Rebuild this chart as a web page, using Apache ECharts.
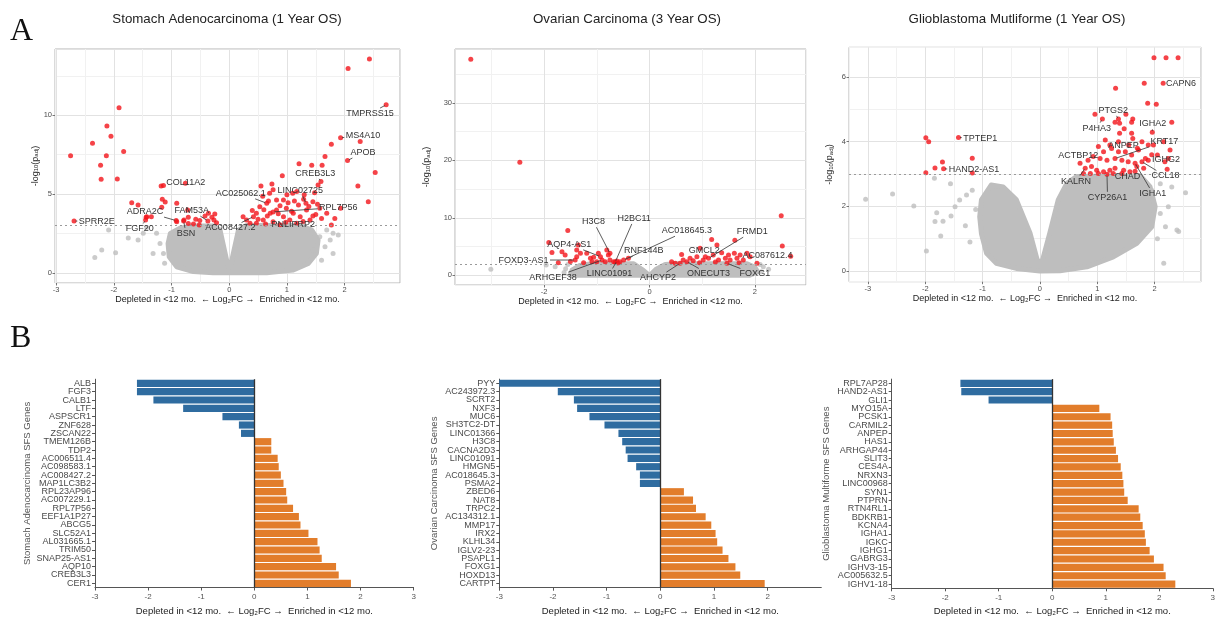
<!DOCTYPE html>
<html><head><meta charset="utf-8">
<script src="https://cdn.jsdelivr.net/npm/echarts@6/dist/echarts.min.js"></script>
<style>html,body{margin:0;padding:0;background:#fff}#c{width:1218px;height:619px}</style>
</head><body><div id="c"></div>
<script>
// ---------------- DATA ----------------
// Stomach adenocarcinoma volcano: significant (red) points [log2FC, -log10 padj]
const stadSig = [[-2.75,7.42],[-2.37,8.22],[-2.12,9.32],[-2.05,8.67],[-2.23,6.82],[-2.13,7.42],[-2.22,5.93],[-1.91,10.47],[-1.83,7.69],[-1.94,5.95],[-2.69,3.28],[-1.69,4.45],[-1.58,4.30],[-1.43,3.56],[-1.35,3.56],[-1.45,3.35],[-1.44,3.52],[-1.18,5.51],[-1.14,5.53],[-0.76,5.68],[-1.16,4.66],[-1.11,4.49],[-1.17,4.15],[-0.91,4.41],[-0.92,3.31],[-0.79,3.28],[-0.72,3.98],[-0.91,3.24],[-0.785,3.35],[-0.71,3.52],[-0.58,3.39],[-0.51,3.31],[-0.42,3.6],[-0.36,3.78],[-0.30,3.52],[-0.265,3.35],[-0.25,3.73],[-0.22,3.18],[-0.37,3.29],[-0.52,3.03],[-0.71,3.13],[-0.62,3.1],
[2.43,13.56],[2.06,12.97],[2.72,10.66],[1.93,8.56],[2.27,8.33],[1.77,8.16],[2.05,7.12],[1.66,7.37],[1.61,6.83],[1.43,6.83],[1.21,6.91],[2.53,6.36],[0.92,6.15],[1.59,5.79],[2.23,5.51],[2.41,4.51],[1.93,4.09],[1.77,3.03],[1.83,3.45],[0.55,5.51],[0.74,5.64],[0.76,5.26],[1.10,5.04],[1.17,5.15],[1.54,5.57],[1.48,5.08],[1.45,4.51],[1.29,4.66],[1.57,4.09],[1.60,3.45],[1.69,3.77],[0.94,4.62],[0.82,4.62],[0.65,4.41],[0.53,4.19],[0.47,3.77],[0.42,3.56],[0.30,3.35],[0.24,3.56],[0.59,3.35],[0.71,3.77],[0.82,3.98],[0.99,4.09],[1.11,3.77],[1.23,3.56],[1.05,3.35],[1.34,3.98],[1.40,3.35],[0.94,3.56],[0.47,3.14],[0.76,3.24],[0.36,3.14],[1.17,3.14],[0.60,4.0],[0.68,4.55],[0.88,4.25],[1.02,4.45],[1.20,4.30],[1.38,4.20],[0.63,3.10],[0.88,3.05],[1.08,3.90],[1.50,3.70],[0.50,3.40],[0.66,3.60],[1.28,3.25],[0.98,3.20],[1.45,3.60],[0.40,3.95],[0.85,3.75],[0.58,4.85],[0.70,5.05],[1.00,4.95],[1.30,4.95],[1.13,4.55],[1.53,4.35],[1.33,4.41],[0.76,3.86]];
const stadGrey = [[-1.75,2.2],[-1.58,2.08],[-1.49,2.5],[-2.21,1.44],[-2.33,0.97],[-1.97,1.27],[-1.43,2.88],[-2.09,2.71],[-1.26,2.5],[-1.20,1.86],[-1.32,1.23],[-1.14,1.23],[-1.12,0.6],[1.57,2.29],[1.80,2.5],[1.89,2.39],[1.66,1.65],[1.80,1.23],[1.46,1.44],[1.75,2.08],[1.60,0.8],[1.69,2.71],[1.34,2.75]];
const stadCloud = [[0,0],[-0.28,0],[-0.62,0.08],[-0.91,0.38],[-1.04,1.02],[-1.06,1.86],[-1.02,2.5],[-0.86,2.82],[-0.62,2.97],[-0.28,2.97],[-0.16,2.71],[-0.02,0.38],[0.02,0.38],[0.16,2.71],[0.30,3.0],[1.23,3.0],[1.43,2.71],[1.54,2.08],[1.51,1.23],[1.37,0.59],[1.11,0.17],[0.65,0]];
// [gene, pointX, pointY, labelX, labelY]
const stadLabels = [['SPRR2E',-2.69,3.28,-2.295,3.28],['FGF20',-1.45,3.35,-1.55,2.78],['ADRA2C',-0.92,3.31,-1.46,3.88],['BSN',-0.79,3.28,-0.75,2.50],['FAM53A',-0.37,3.29,-0.65,3.94],['COL11A2',-1.14,5.53,-0.754,5.70],['AC008427.2',0.42,3.56,0.02,2.84],['AC025062.1',0.65,4.41,0.20,5.04],['LINC02725',1.33,4.41,1.23,5.21],['CREB3L3',1.59,5.79,1.49,6.31],['RPL7P56',0.76,3.86,1.89,4.15],['PNLIPRP2',1.40,3.35,1.11,3.03],['TMPRSS15',2.72,10.66,2.44,10.10],['MS4A10',1.93,8.56,2.32,8.73],['APOB',2.05,7.12,2.32,7.63]];

// Ovarian carcinoma volcano
const ovSig = [[-3.39,37.6],[-2.46,19.7],[2.50,10.35],[2.52,5.09],[2.68,3.3],[2.04,2.08],[-1.55,7.8],[-1.91,5.73],[-1.85,3.99],[-1.66,4.1],[-1.60,3.53],[-1.73,2.19],[-1.38,4.4],[-1.35,5.26],[-1.31,3.82],[-1.38,3.24],[-1.41,2.66],[-1.19,3.82],[-1.12,2.95],[-1.09,2.37],[-0.97,3.82],[-0.93,3.24],[-0.90,2.66],[-0.81,4.40],[-0.78,3.53],[-0.84,2.37],[-0.75,2.66],[-0.68,2.37],[-0.62,2.48],[-0.56,2.37],[-0.49,2.66],[-0.40,2.95],[-1.00,2.37],[-1.06,3.13],[-0.75,3.82],[-0.65,2.3],[-1.25,2.2],[-0.6,2.15],[-1.5,2.4],
[0.42,2.37],[0.49,2.08],[0.61,3.64],[0.64,2.66],[0.71,2.37],[0.77,2.95],[0.83,2.54],[0.96,4.69],[1.02,2.66],[1.06,3.24],[1.12,2.95],[1.18,6.25],[1.21,3.53],[1.28,5.26],[1.31,2.66],[1.37,3.93],[1.44,2.95],[1.50,3.53],[1.53,2.66],[1.62,6.1],[1.61,3.82],[1.66,2.95],[1.72,3.53],[1.78,2.66],[1.85,3.82],[1.91,3.24],[1.47,2.08],[0.90,3.24],[0.58,2.08],[1.25,2.3],[0.95,2.2],[1.70,2.2]];
const ovGrey = [[-3.01,1.04],[-1.96,1.8],[-1.79,1.5],[-1.59,1.16],[-1.55,1.9],[-1.62,0.5],[2.16,1.5],[2.26,1.04],[2.12,0.6],[2.1,1.9]];
const ovCloud = [[-1.5,0],[-1.47,0.9],[-1.32,1.7],[-1.1,2.0],[-0.3,2.0],[-0.14,1.0],[-0.02,0.1],[0.02,0.1],[0.12,1.0],[0.3,1.9],[0.5,2.0],[1.85,2.0],[2.0,1.4],[2.05,0.6],[1.9,0]];
const ovLabels = [['H3C8',-0.75,3.82,-1.06,9.32],['H2BC11',-0.65,2.3,-0.29,9.90],['AC018645.3',-0.49,2.66,0.71,7.76],['AQP4-AS1',-0.93,3.24,-1.52,5.39],['RNF144B',-0.40,2.95,-0.11,4.28],['FOXD3-AS1',-1.41,2.66,-2.39,2.66],['ARHGEF38',-0.90,2.66,-1.83,-0.41],['LINC01091',-0.62,2.48,-0.76,0.23],['AHCYP2',0.58,2.08,0.16,-0.41],['ONECUT3',0.71,2.37,1.12,0.23],['GMCL2',1.21,3.53,1.04,4.40],['FRMD1',1.12,2.95,1.95,7.59],['AC087612.4',2.68,3.3,2.24,3.36],['FOXG1',1.47,2.08,2.0,0.23]];

// Glioblastoma volcano
const gbmSig = [[-1.99,4.12],[-1.94,4.0],[-1.42,4.13],[-1.18,3.49],[-1.18,3.03],[-1.70,3.37],[-1.83,3.19],[-1.68,3.16],[-1.99,3.04],
[1.99,6.60],[2.20,6.60],[2.41,6.60],[2.15,5.81],[1.82,5.81],[1.32,5.65],[1.88,5.19],[2.03,5.16],[0.96,4.85],[1.09,4.70],[1.50,4.85],[1.37,4.70],[1.31,4.60],[1.39,4.57],[1.62,4.70],[1.60,4.60],[2.30,4.60],[1.96,4.29],[1.39,4.26],[1.60,4.26],[1.14,4.05],[1.37,4.00],[1.78,4.00],[1.89,3.90],[1.11,3.69],[1.25,3.79],[1.37,3.69],[1.49,3.69],[1.60,3.59],[1.72,3.74],[1.84,3.48],[1.78,3.38],[1.66,3.33],[1.54,3.38],[1.43,3.43],[1.31,3.48],[1.17,3.43],[1.05,3.48],[0.93,3.54],[0.84,3.43],[0.70,3.33],[0.79,3.18],[0.90,3.23],[0.99,3.12],[1.11,3.07],[1.22,3.12],[1.31,3.18],[1.46,3.12],[1.57,3.07],[1.69,3.23],[1.81,3.18],[0.76,3.02],[0.88,3.02],[1.02,3.02],[1.17,2.99],[1.28,3.02],[1.43,3.02],[1.66,3.09],[1.89,3.43],[2.27,3.74],[2.24,3.48],[2.18,3.38],[2.22,3.15],[2.05,3.59],[2.16,4.00],[1.98,3.90],[1.47,4.40],[1.55,3.90],[1.22,3.90],[1.02,3.85],[1.95,3.60],[1.70,3.80],[1.62,4.10]];
const gbmGrey = [[-3.04,2.22],[-2.57,2.38],[-2.20,2.01],[-1.98,0.62],[-1.83,1.53],[-1.80,1.80],[-1.69,1.54],[-1.73,1.08],[-1.55,1.70],[-1.48,1.99],[-1.40,2.20],[-1.28,2.35],[-1.56,2.70],[-1.84,2.87],[-1.18,2.50],[-1.30,1.40],[-1.22,0.90],[-1.12,1.90],[2.54,2.42],[2.39,1.27],[2.42,1.22],[2.16,0.24],[2.24,1.99],[2.10,1.78],[2.19,1.37],[2.30,2.60],[2.10,2.70],[1.95,2.50],[2.05,1.00]];
const gbmCloud = [[0,0],[-0.41,0.08],[-0.76,0.24],[-0.93,0.55],[-1.02,1.16],[-1.05,1.68],[-1.02,2.2],[-0.85,2.66],[-0.64,2.6],[-0.41,2.2],[-0.17,1.16],[-0.04,0.3],[0.04,0.3],[0.17,1.16],[0.32,2.2],[0.47,2.71],[0.64,2.92],[1.75,2.95],[1.92,2.61],[2.01,1.99],[1.95,1.37],[1.69,0.86],[1.28,0.44],[0.82,0.13],[0.35,0.01]];
const gbmLabels = [['TPTEP1',-1.42,4.13,-1.04,4.11],['HAND2-AS1',-1.68,3.16,-1.15,3.14],['CAPN6',2.15,5.81,2.46,5.80],['PTGS2',1.37,4.70,1.28,4.97],['P4HA3',1.09,4.70,0.99,4.42],['IGHA2',1.96,4.29,1.97,4.55],['KRT17',1.31,3.48,2.17,4.00],['ANPEP',1.14,4.05,1.46,3.87],['ACTBP12',1.05,3.48,0.67,3.58],['IGHG2',1.89,3.43,2.20,3.45],['CCL18',1.78,3.38,2.19,2.94],['CHAD',1.46,3.12,1.53,2.92],['KALRN',0.79,3.18,0.63,2.78],['IGHA1',1.66,3.33,1.97,2.40],['CYP26A1',1.17,2.99,1.18,2.28]];

// Bar charts (SFS genes)
const stadGenes = ['ALB','FGF3','CALB1','LTF','ASPSCR1','ZNF628','ZSCAN22','TMEM126B','TDP2','AC006511.4','AC098583.1','AC008427.2','MAP1LC3B2','RPL23AP96','AC007229.1','RPL7P56','EEF1A1P27','ABCG5','SLC52A1','AL031665.1','TRIM50','SNAP25-AS1','AQP10','CREB3L3','CER1'];
const stadFC = [-2.21,-2.21,-1.90,-1.34,-0.60,-0.29,-0.25,0.32,0.32,0.44,0.46,0.50,0.55,0.60,0.62,0.73,0.84,0.87,1.02,1.19,1.23,1.27,1.54,1.59,1.82];
const ovGenes = ['PYY','AC243972.3','SCRT2','NXF3','MUC6','SH3TC2-DT','LINC01366','H3C8','CACNA2D3','LINC01091','HMGN5','AC018645.3','PSMA2','ZBED6','NAT8','TRPC2','AC134312.1','MMP17','IRX2','KLHL34','IGLV2-23','PSAPL1','FOXG1','HOXD13','CARTPT'];
const ovFC = [-3.0,-1.91,-1.61,-1.55,-1.32,-1.04,-0.78,-0.71,-0.645,-0.61,-0.45,-0.38,-0.38,0.44,0.61,0.665,0.845,0.95,1.03,1.06,1.16,1.27,1.40,1.49,1.945];
const gbmGenes = ['RPL7AP28','HAND2-AS1','GLI1','MYO15A','PCSK1','CARMIL2','ANPEP','HAS1','ARHGAP44','SLIT3','CES4A','NRXN3','LINC00968','SYN1','PTPRN','RTN4RL1','BDKRB1','KCNA4','IGHA1','IGKC','IGHG1','GABRG3','IGHV3-15','AC005632.5','IGHV1-18'];
const gbmFC = [-1.716,-1.70,-1.19,0.88,1.09,1.12,1.13,1.15,1.19,1.23,1.28,1.31,1.33,1.345,1.41,1.615,1.645,1.69,1.73,1.75,1.82,1.90,2.08,2.12,2.30];

const volcanoTitles = ['Stomach Adenocarcinoma (1 Year OS)','Ovarian Carcinoma (3 Year OS)','Glioblastoma Mutliforme (1 Year OS)'];
const barAxisNames = ['Stomach Adenocarcinoma SFS Genes','Ovarian Carcinoma SFS Genes','Glioblastoma Multiforme SFS Genes'];
const fcAxisName = 'Depleted in <12 mo.  \u2190 Log\u2082FC \u2192  Enriched in <12 mo.';

// ---------------- STYLE / LAYOUT ----------------
const FONT = '"Liberation Sans", Arial, Helvetica, sans-serif';
const RED = '#f2141a', GREY = '#bebebe', MAJC = '#e2e2e2', MINC = '#f1f1f1';
const BLUE = '#2f6ca0', ORANGE = '#e27d2b';

const volcanoPanels = [
  {sig: stadSig, grey: stadGrey, cloud: stadCloud, labels: stadLabels, thr: 3,
   grid: {left: 55, top: 49, width: 345, height: 234}, x: [-3.02, 2.96, 1], y: [-0.65, 14.2, 5], yGap: 19.5, xGap: 13, title: [227, 19]},
  {sig: ovSig, grey: ovGrey, cloud: ovCloud, labels: ovLabels, thr: 2,
   grid: {left: 455, top: 49, width: 351, height: 236}, x: [-3.69, 2.97, 2], y: [-1.69, 39.4, 10], yGap: 28, xGap: 13, title: [627, 19]},
  {sig: gbmSig, grey: gbmGrey, cloud: gbmCloud, labels: gbmLabels, thr: 3,
   grid: {left: 849, top: 47.3, width: 352, height: 234.4}, x: [-3.33, 2.81, 1], y: [-0.33, 6.92, 2], yGap: 19, xGap: 14, title: [1017, 19]}
];
const barPanels = [
  {genes: stadGenes, fc: stadFC, grid: {left: 95, top: 379.2, width: 318.6, height: 208.3}, yGap: 68, showMax: true},
  {genes: ovGenes, fc: ovFC, grid: {left: 499.3, top: 379.1, width: 322, height: 208.6}, yGap: 64.5, showMax: false},
  {genes: gbmGenes, fc: gbmFC, grid: {left: 891.7, top: 379.1, width: 323.7, height: 209.2}, yGap: 65, showMax: true}
];

const mctx = document.createElement('canvas').getContext('2d');
const LABEL_FONT = '9px ' + FONT;
mctx.font = LABEL_FONT;
function textW(t) { return mctx.measureText(t).width; }

function splitColors(min, maj) {
  const half = maj / 2;
  const first = Math.ceil(min / half - 1e-9) * half;
  const isMaj = Math.abs(first / maj - Math.round(first / maj)) < 1e-6;
  return isMaj ? [MINC, MAJC] : [MAJC, MINC];
}

const grid = [], xAxis = [], yAxis = [], series = [];

volcanoPanels.forEach(function (P, i) {
  const g = grid.length;
  grid.push(Object.assign({show: true, borderColor: '#b5b5b5', borderWidth: 1, backgroundColor: '#fff', containLabel: false}, P.grid));
  const tickStyle = {show: true, length: 2.5, lineStyle: {color: '#555', width: 0.8}};
  const lab = {fontSize: 7.5, color: '#4d4d4d', fontFamily: FONT, showMinLabel: false, showMaxLabel: false};
  // split-line axes (half interval: major + minor grid lines)
  xAxis.push({gridIndex: g, type: 'value', position: 'bottom', min: P.x[0], max: P.x[1], minInterval: P.x[2] / 2, maxInterval: P.x[2] / 2,
    axisLine: {show: false, onZero: false}, axisTick: {show: false}, axisLabel: {show: false},
    splitLine: {show: true, lineStyle: {color: splitColors(P.x[0], P.x[2]), width: 1}}});
  yAxis.push({gridIndex: g, type: 'value', position: 'left', min: P.y[0], max: P.y[1], minInterval: P.y[2] / 2, maxInterval: P.y[2] / 2,
    axisLine: {show: false, onZero: false}, axisTick: {show: false}, axisLabel: {show: false},
    splitLine: {show: true, lineStyle: {color: splitColors(P.y[0], P.y[2]), width: 1}}});
  const xi = xAxis.length, yi = yAxis.length;
  xAxis.push({gridIndex: g, type: 'value', position: 'bottom', min: P.x[0], max: P.x[1], minInterval: P.x[2], maxInterval: P.x[2],
    axisLine: {show: false, onZero: false}, axisTick: tickStyle, splitLine: {show: false},
    axisLabel: Object.assign({margin: 3}, lab),
    name: fcAxisName, nameLocation: 'middle', nameGap: P.xGap,
    nameTextStyle: {fontSize: 9, color: '#222', fontFamily: FONT, verticalAlign: 'middle'}});
  yAxis.push({gridIndex: g, type: 'value', position: 'left', min: P.y[0], max: P.y[1], minInterval: P.y[2], maxInterval: P.y[2],
    axisLine: {show: false, onZero: false}, axisTick: tickStyle, splitLine: {show: false},
    axisLabel: Object.assign({margin: 3}, lab),
    name: '-log{s|10}(p{s|adj})', nameLocation: 'middle', nameGap: P.yGap,
    nameTextStyle: {fontSize: 9, color: '#222', fontFamily: FONT, verticalAlign: 'middle',
      rich: {s: {fontSize: 6, color: '#222', fontFamily: FONT, verticalAlign: 'bottom', padding: [3, 0, 0, 0]}}}});

  const cloud = P.cloud;
  series.push({type: 'custom', xAxisIndex: xi, yAxisIndex: yi, silent: true, z: 1,
    data: cloud, encode: {x: 0, y: 1},
    renderItem: function (params, api) {
      if (params.dataIndex !== 0) return null;
      const pts = cloud.map(function (v) { return api.coord(v); });
      return {type: 'polygon', shape: {points: pts},
        style: {fill: GREY, stroke: GREY, lineWidth: 5, lineJoin: 'round'}};
    }});
  series.push({type: 'scatter', xAxisIndex: xi, yAxisIndex: yi, silent: true, z: 2,
    data: P.grey, symbolSize: 5, itemStyle: {color: GREY}});
  series.push({type: 'scatter', xAxisIndex: xi, yAxisIndex: yi, silent: true, z: 3,
    data: P.sig, symbolSize: 5, itemStyle: {color: RED},
    markLine: {silent: true, symbol: 'none', label: {show: false}, z: 4,
      lineStyle: {color: '#9a9a9a', type: [2, 3], width: 1.2},
      data: [{yAxis: P.thr}]}});
  const labels = P.labels;
  series.push({type: 'custom', xAxisIndex: xi, yAxisIndex: yi, silent: true, z: 6, clip: false,
    data: labels.map(function (l) { return [l[1], l[2], l[3], l[4]]; }), encode: {x: 0, y: 1},
    renderItem: function (params, api) {
      const name = labels[params.dataIndex][0];
      const p = api.coord([api.value(0), api.value(1)]);
      const c = api.coord([api.value(2), api.value(3)]);
      const hw = textW(name) / 2 + 1.5, hh = 5.5;
      const dx = p[0] - c[0], dy = p[1] - c[1];
      const s = Math.min(dx === 0 ? Infinity : hw / Math.abs(dx), dy === 0 ? Infinity : hh / Math.abs(dy));
      const children = [];
      if (s < 1) {
        const e = [c[0] + dx * s, c[1] + dy * s];
        const len = Math.hypot(p[0] - e[0], p[1] - e[1]);
        if (len > 2.5) {
          const f = (len - 1.5) / len;
          children.push({type: 'line', shape: {x1: e[0], y1: e[1], x2: e[0] + (p[0] - e[0]) * f, y2: e[1] + (p[1] - e[1]) * f},
            style: {stroke: '#333', lineWidth: 0.8}});
        }
      }
      children.push({type: 'text', x: c[0], y: c[1],
        style: {text: name, font: LABEL_FONT, fill: '#333', align: 'center', verticalAlign: 'middle'}});
      return {type: 'group', children: children};
    }});
});

barPanels.forEach(function (B, i) {
  const g = grid.length;
  grid.push(Object.assign({show: false, containLabel: false}, B.grid));
  const xi = xAxis.length, yi = yAxis.length;
  xAxis.push({gridIndex: g, type: 'value', position: 'bottom', min: -3, max: 3, interval: 1,
    axisLine: {show: true, onZero: false, lineStyle: {color: '#555', width: 1}},
    axisTick: {show: true, length: 3, lineStyle: {color: '#555'}},
    axisLabel: {fontSize: 8, color: '#555', fontFamily: FONT, margin: 5, showMaxLabel: B.showMax},
    splitLine: {show: false},
    name: fcAxisName, nameLocation: 'middle', nameGap: 23.5,
    nameTextStyle: {fontSize: 9.5, color: '#222', fontFamily: FONT, verticalAlign: 'middle'}});
  yAxis.push({gridIndex: g, type: 'category', position: 'left', inverse: true, data: B.genes,
    axisLine: {show: true, onZero: false, lineStyle: {color: '#555', width: 1}},
    axisTick: {show: true, length: 3, alignWithLabel: true, lineStyle: {color: '#555'}},
    axisLabel: {fontSize: 9, color: '#4a4a4a', fontFamily: FONT, margin: 4, interval: 0},
    splitLine: {show: false},
    name: barAxisNames[i], nameLocation: 'middle', nameGap: B.yGap,
    nameTextStyle: {fontSize: 9.5, color: '#555', fontFamily: FONT, verticalAlign: 'middle'}});
  series.push({type: 'bar', xAxisIndex: xi, yAxisIndex: yi, silent: true, barCategoryGap: '14%',
    data: B.fc,
    itemStyle: {color: function (p) { return p.value < 0 ? BLUE : ORANGE; }},
    markLine: {silent: true, symbol: 'none', label: {show: false},
      lineStyle: {color: '#333', type: 'solid', width: 1.3}, data: [{xAxis: 0}]}});
});

const graphic = [
  {type: 'text', x: 10, y: 31.9, style: {text: 'A', font: '32px "Liberation Serif", "Times New Roman", serif', fill: '#111', verticalAlign: 'middle'}},
  {type: 'text', x: 10, y: 338.8, style: {text: 'B', font: '32px "Liberation Serif", "Times New Roman", serif', fill: '#111', verticalAlign: 'middle'}}
];
volcanoPanels.forEach(function (P, i) {
  graphic.push({type: 'text', x: P.title[0], y: P.title[1],
    style: {text: volcanoTitles[i], font: '13.3px ' + FONT, fill: '#222', align: 'center', verticalAlign: 'middle'}});
});

const chart = echarts.init(document.getElementById('c'), null, {renderer: 'canvas'});
chart.setOption({animation: false, backgroundColor: '#fff', grid: grid, xAxis: xAxis, yAxis: yAxis, series: series, graphic: graphic});
</script></body></html>
